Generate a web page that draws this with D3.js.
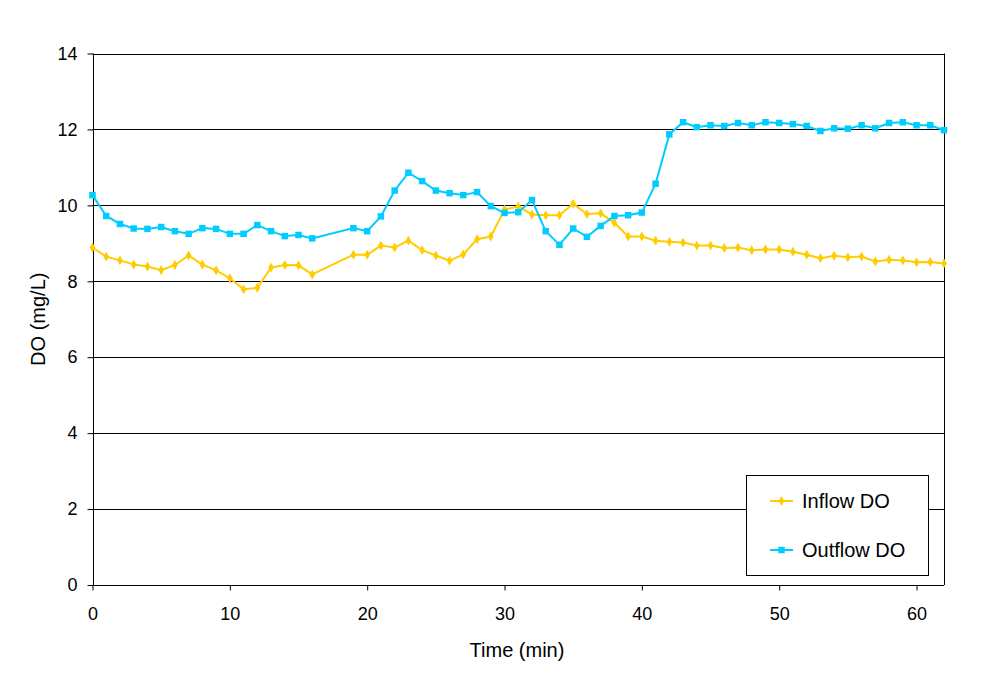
<!DOCTYPE html>
<html>
<head>
<meta charset="utf-8">
<script src="https://cdn.jsdelivr.net/npm/d3@7"></script>
<style>
  body { margin: 0; background: #fff; }
  text { font-family: "Liberation Sans", Arial, sans-serif; }
</style>
</head>
<body>
<div id="chart"></div>
<script>
// DO readings, inflow vs outflow, one point per minute (17 and 18 missing)

const times = [0,1,2,3,4,5,6,7,8,9,10,11,12,13,14,15,16,
  19,20,21,22,23,24,25,26,27,28,29,30,31,32,33,34,35,36,37,38,39,40,
  41,42,43,44,45,46,47,48,49,50,51,52,53,54,55,56,57,58,59,60,61,62];

const inflowDO = [8.89,8.65,8.55,8.44,8.39,8.29,8.43,8.68,8.44,8.29,8.08,7.79,7.83,8.36,8.43,8.42,8.18,
  8.70,8.70,8.94,8.89,9.07,8.82,8.68,8.54,8.71,9.11,9.18,9.89,9.97,9.76,9.74,9.74,10.04,9.77,9.79,9.54,9.18,9.18,
  9.07,9.04,9.02,8.94,8.94,8.88,8.89,8.82,8.84,8.84,8.78,8.70,8.61,8.67,8.63,8.65,8.52,8.57,8.55,8.50,8.51,8.47];

const outflowDO = [10.27,9.72,9.51,9.39,9.38,9.43,9.32,9.25,9.40,9.38,9.25,9.25,9.48,9.32,9.19,9.22,9.13,
  9.40,9.32,9.71,10.39,10.86,10.64,10.39,10.32,10.27,10.35,9.98,9.80,9.82,10.14,9.32,8.96,9.39,9.17,9.46,9.72,9.74,9.81,
  10.57,11.87,12.19,12.06,12.11,12.09,12.17,12.11,12.19,12.17,12.14,12.09,11.96,12.03,12.02,12.11,12.03,12.17,12.19,12.11,12.11,11.98];

const seriesNames = ["Inflow DO", "Outflow DO"];
const seriesColors = ["#FFCC00", "#00CCFF"];
const xTicks = [0, 10, 20, 30, 40, 50, 60];
const yTicks = [0, 2, 4, 6, 8, 10, 12, 14];

const width = 986, height = 688;
const margin = {top: 53.5, right: 42, bottom: 103, left: 92.5};

const svg = d3.select("#chart")
  .append("svg")
  .attr("width", width)
  .attr("height", height);

const x = d3.scaleLinear()
  .domain([0, 62])
  .range([margin.left, width - margin.right]);

const y = d3.scaleLinear()
  .domain([0, 14])
  .range([height - margin.bottom, margin.top]);

// horizontal gridlines
svg.append("g")
  .selectAll("line")
  .data(yTicks.filter(d => d > 0))
  .join("line")
  .attr("x1", x(0)).attr("x2", x(62))
  .attr("y1", d => Math.round(y(d)) + 0.5)
  .attr("y2", d => Math.round(y(d)) + 0.5)
  .attr("stroke", "#000")
  .attr("stroke-width", 1);

// right border of plot area
svg.append("line")
  .attr("x1", Math.round(x(62)) + 0.5).attr("x2", Math.round(x(62)) + 0.5)
  .attr("y1", y(14)).attr("y2", y(0))
  .attr("stroke", "#000");

// axes
const xAxis = d3.axisBottom(x).tickValues(xTicks).tickSize(5).tickPadding(17);
const yAxis = d3.axisLeft(y).tickValues(yTicks).tickSize(6).tickPadding(10);

svg.append("g")
  .attr("transform", `translate(0,${Math.round(y(0)) + 0.5})`)
  .call(xAxis)
  .call(g => g.select(".domain").attr("d", `M${x(0)},0H${x(62)}`))
  .call(g => g.selectAll("text").attr("font-size", 18).attr("fill", "#000")
    .attr("font-family", "Liberation Sans, Arial, sans-serif"));

svg.append("g")
  .attr("transform", `translate(${Math.round(x(0)) + 0.5},0)`)
  .call(yAxis)
  .call(g => g.select(".domain").attr("d", `M0,${y(14)}V${y(0)}`))
  .call(g => g.selectAll("text").attr("font-size", 18).attr("fill", "#000")
    .attr("font-family", "Liberation Sans, Arial, sans-serif"));

// axis titles
svg.append("text")
  .attr("x", 517)
  .attr("y", 657)
  .attr("text-anchor", "middle")
  .attr("font-size", 20)
  .text("Time (min)");

svg.append("text")
  .attr("transform", `translate(45,${(y(0) + y(14)) / 2}) rotate(-90)`)
  .attr("text-anchor", "middle")
  .attr("font-size", 20)
  .text("DO (mg/L)");

// lines + markers
const series = [inflowDO, outflowDO];
const line = d3.line()
  .x(d => x(d[0]))
  .y(d => y(d[1]));

const diamond = d3.symbol().type(d3.symbolDiamond).size(28);
const square = d3.symbol().type(d3.symbolSquare).size(42);
const shapes = [diamond, square];

series.forEach((vals, i) => {
  const pts = times.map((t, j) => [t, vals[j]]);
  svg.append("path")
    .datum(pts)
    .attr("fill", "none")
    .attr("stroke", seriesColors[i])
    .attr("stroke-width", 2)
    .attr("d", line);

  svg.append("g")
    .selectAll("path")
    .data(pts)
    .join("path")
    .attr("transform", d => `translate(${x(d[0])},${y(d[1])})`)
    .attr("d", shapes[i])
    .attr("fill", seriesColors[i]);
});

// legend
const legend = svg.append("g");
legend.append("rect")
  .attr("x", 746.5).attr("y", 475.5)
  .attr("width", 182).attr("height", 100)
  .attr("fill", "#fff")
  .attr("stroke", "#000");

seriesNames.forEach((name, i) => {
  const ly = 501 + i * 49;
  legend.append("line")
    .attr("x1", 770).attr("x2", 793)
    .attr("y1", ly).attr("y2", ly)
    .attr("stroke", seriesColors[i])
    .attr("stroke-width", 2);
  legend.append("path")
    .attr("transform", `translate(781.5,${ly})`)
    .attr("d", shapes[i])
    .attr("fill", seriesColors[i]);
  legend.append("text")
    .attr("x", 802)
    .attr("y", ly + 7)
    .attr("font-size", 20)
    .text(name);
});
</script>
</body>
</html>
